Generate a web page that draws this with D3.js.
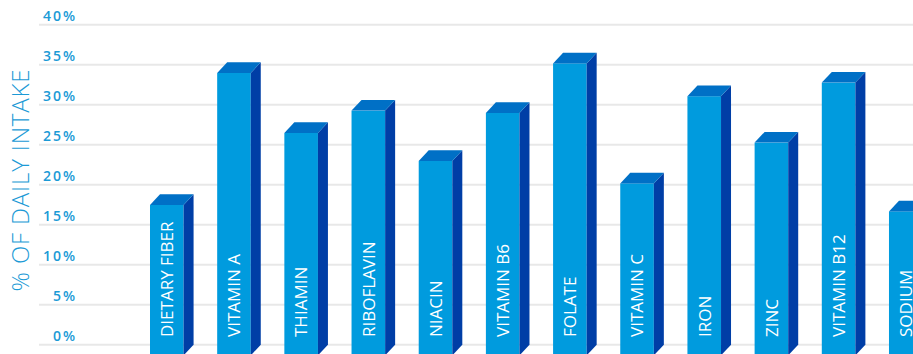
<!DOCTYPE html>
<html>
<head>
<meta charset="utf-8">
<script src="https://cdn.jsdelivr.net/npm/d3@7"></script>
<style>
  html, body { margin: 0; padding: 0; background: #ffffff; }
  svg { display: block; }
</style>
</head>
<body>
<div id="chart"></div>
<script>
// Nutrients and their share of the recommended daily intake (%)
const nutrients = ["DIETARY FIBER", "VITAMIN A", "THIAMIN", "RIBOFLAVIN", "NIACIN", "VITAMIN B6",
                   "FOLATE", "VITAMIN C", "IRON", "ZINC", "VITAMIN B12", "SODIUM"];
const dailyIntake = [18.8, 35.3, 27.8, 30.6, 24.3, 30.3, 36.5, 21.5, 32.4, 26.6, 34.1, 18.0];
const tickValues = [0, 5, 10, 15, 20, 25, 30, 35, 40];
const tickLabels = ["0%", "5%", "10%", "15%", "20%", "25%", "30%", "35%", "40%"];
const axisTitle = "% OF DAILY INTAKE";

const width = 913, height = 354;
const depthX = 10, depthY = 10.7;   // 3D extrusion of the bars
const colors = { front: "#009bde", top: "#0070c6", side: "#003ea6", text: "#1b9ad6", grid: "#e8e8e8" };

const svg = d3.select("#chart").append("svg")
  .attr("width", width).attr("height", height);

const y = d3.scaleLinear().domain([0, 40]).range([344.7, 24.7]);
const x = d3.scaleBand().domain(nutrients)
  .range([133.2, 133.2 + 12 * 67.18])
  .paddingInner(0.5).paddingOuter(0.25);

// Spread a text's letters so that it spans the given length
function spreadTo(sel, target) {
  sel.each(function () {
    const len = this.getComputedTextLength();
    const n = this.textContent.length;
    if (n > 1) d3.select(this).attr("letter-spacing", (target - len) / (n - 1));
  });
}

// Gridlines
svg.append("g").selectAll("line").data(tickValues).join("line")
  .attr("x1", 39).attr("x2", width)
  .attr("y1", d => y(d)).attr("y2", d => y(d))
  .attr("stroke", colors.grid).attr("stroke-width", 2);

// Tick labels sit just above each gridline
const ticks = svg.append("g").selectAll("text").data(tickValues).join("text")
  .attr("x", 75).attr("y", d => y(d) - 4)
  .attr("text-anchor", "end")
  .attr("font-family", "'Open Sans', sans-serif")
  .attr("font-weight", 600).attr("font-size", 14)
  .attr("fill", colors.text)
  .text((d, i) => tickLabels[i]);
// same tracking on every label, taken from the widest one
{
  const top = ticks.filter(d => d === 40).node();
  const ls = Math.max(0, (32 - top.getComputedTextLength()) / 2);
  ticks.attr("letter-spacing", ls).attr("x", 75 + ls);
}

// Axis title
const title = svg.append("text")
  .attr("transform", "translate(28.5,180) rotate(-90)")
  .attr("text-anchor", "middle")
  .attr("font-family", "'Open Sans', sans-serif")
  .attr("font-weight", 300).attr("font-size", 24)
  .attr("fill", colors.text)
  .text(axisTitle);
spreadTo(title, 222);

// 3D bars
const data = nutrients.map((n, i) => ({ name: n, value: dailyIntake[i] }));
const bars = svg.append("g").selectAll("g").data(data).join("g");
const w = x.bandwidth();

bars.append("rect")
  .attr("x", d => x(d.name))
  .attr("y", d => y(d.value) + depthY)
  .attr("width", w)
  .attr("height", d => y(0) - y(d.value))
  .attr("fill", colors.front);

bars.append("polygon")
  .attr("points", d => {
    const x0 = x(d.name) + w, yt = y(d.value), yb = y(0);
    return [[x0, yt + depthY], [x0 + depthX, yt], [x0 + depthX, yb], [x0, yb + depthY]].join(" ");
  })
  .attr("fill", colors.side);

bars.append("polygon")
  .attr("points", d => {
    const x0 = x(d.name), yt = y(d.value);
    return [[x0, yt + depthY], [x0 + depthX, yt], [x0 + w + depthX, yt], [x0 + w, yt + depthY]].join(" ");
  })
  .attr("fill", colors.top);

// Category names written up the front of each bar
bars.append("text")
  .attr("transform", d => `translate(${x(d.name) + w / 2 + 6.3},337) rotate(-90)`)
  .attr("font-family", "'Open Sans', sans-serif")
  .attr("font-size", 17)
  .attr("fill", "#ffffff")
  .text(d => d.name);
</script>
</body>
</html>
